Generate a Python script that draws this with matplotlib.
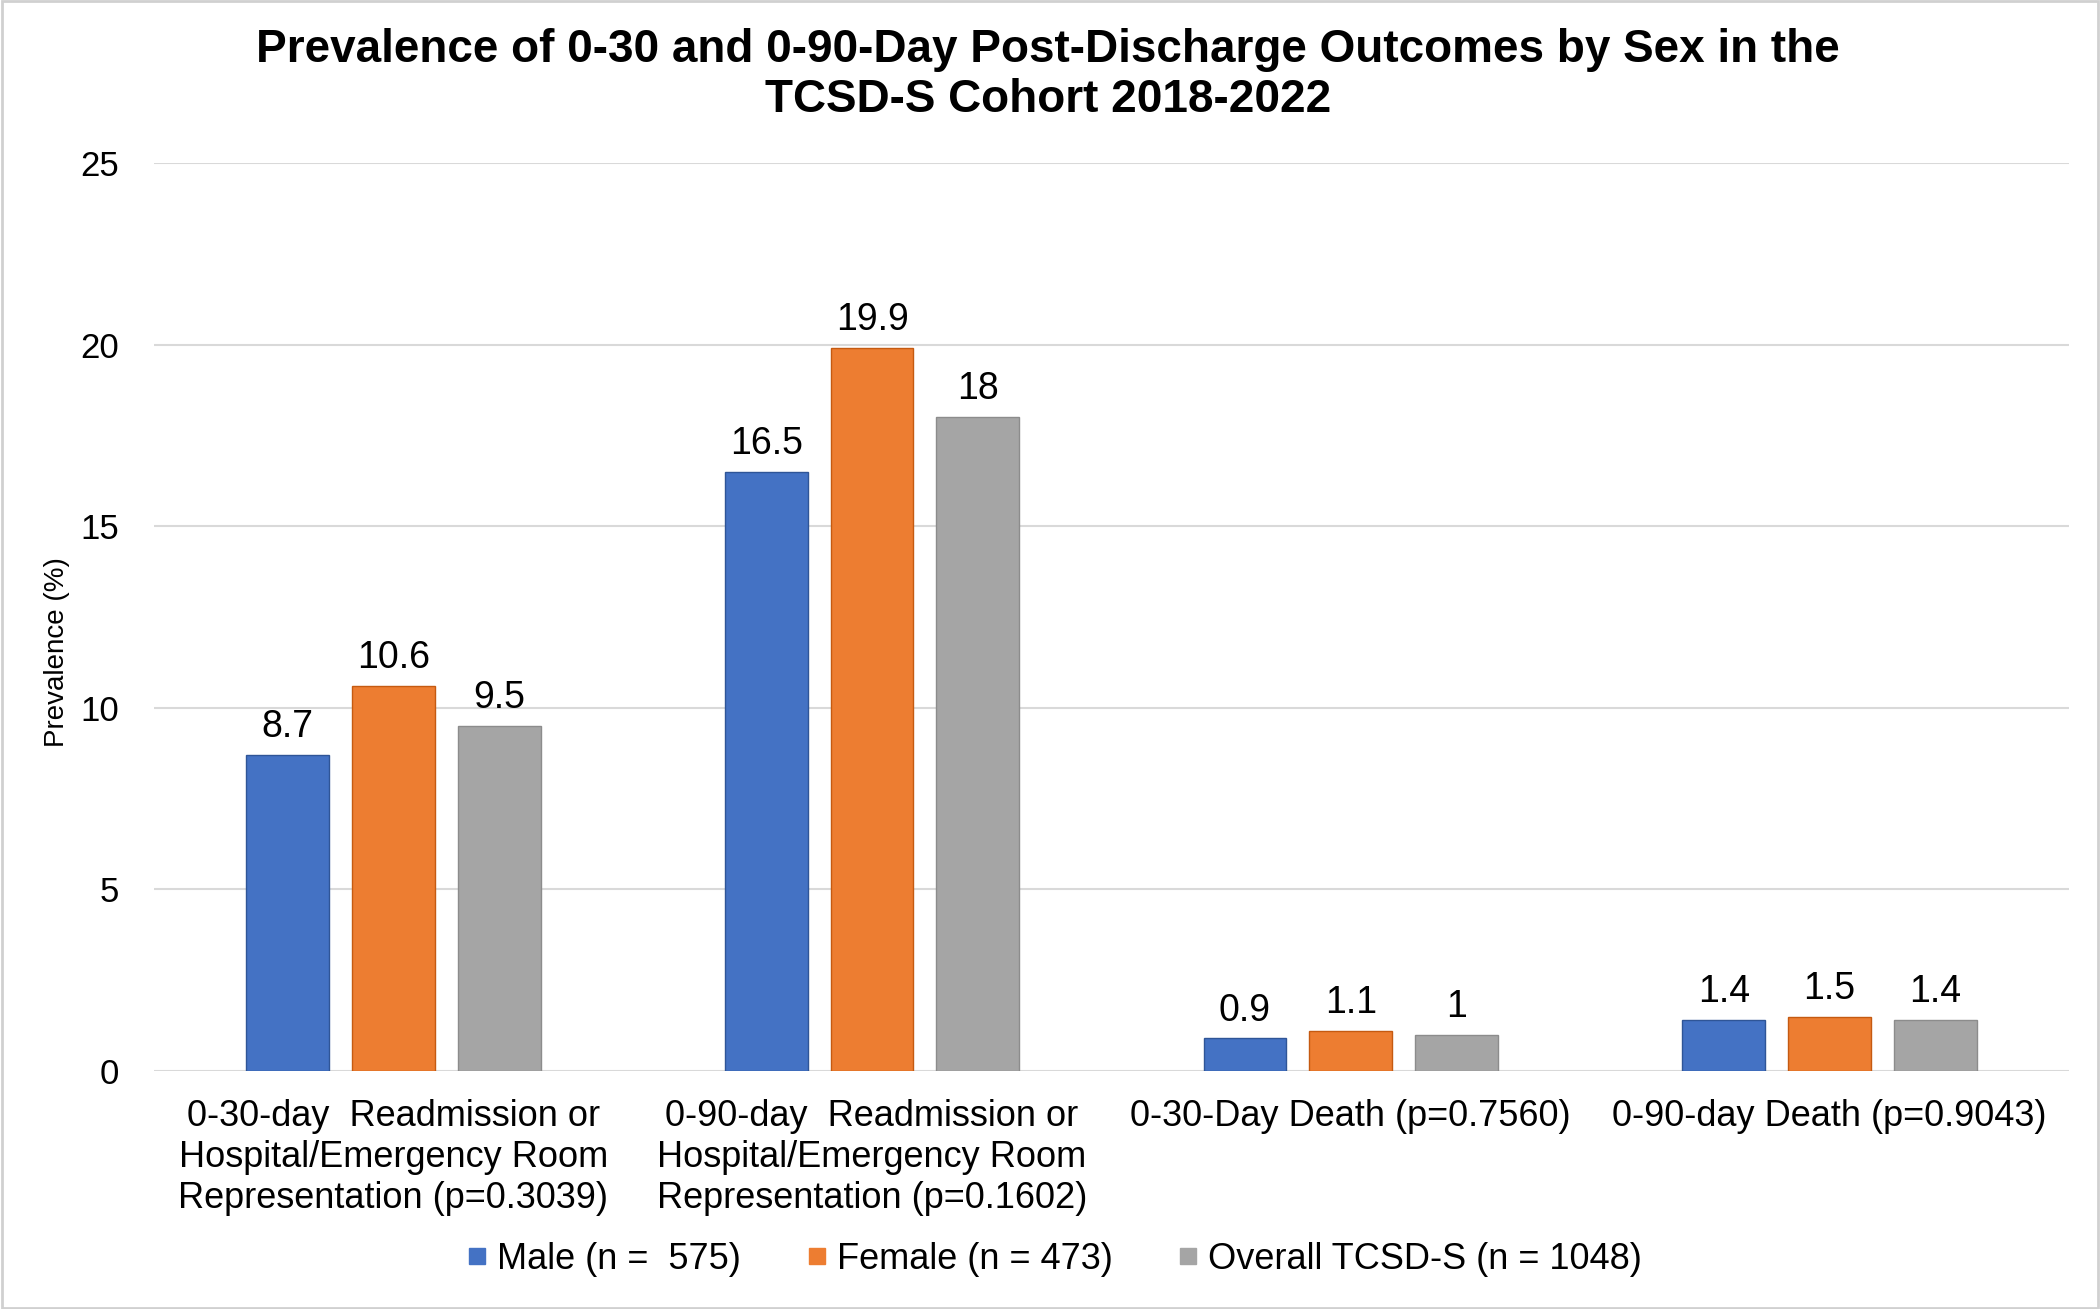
import matplotlib.pyplot as plt
from matplotlib.lines import Line2D
from matplotlib.patches import Rectangle
import numpy as np

plt.rcParams['font.family'] = ['Liberation Sans', 'DejaVu Sans']

categories = [
    '0-30-day  Readmission or\nHospital/Emergency Room\nRepresentation (p=0.3039)',
    '0-90-day  Readmission or\nHospital/Emergency Room\nRepresentation (p=0.1602)',
    '0-30-Day Death (p=0.7560)',
    '0-90-day Death (p=0.9043)',
]
male = [8.7, 16.5, 0.9, 1.4]
female = [10.6, 19.9, 1.1, 1.5]
overall = [9.5, 18, 1, 1.4]
series_names = ['Male (n =  575)', 'Female (n = 473)', 'Overall TCSD-S (n = 1048)']
colors = ['#4472C4', '#ED7D31', '#A5A5A5']
edges = ['#2F5597', '#C55A11', '#8C8C8C']

fig = plt.figure(figsize=(21, 13.09), dpi=100)
ax = fig.add_axes([0.0733, 0.1818, 0.9119, 0.6937])

x = np.arange(len(categories))
w = 0.173
off = 0.221
for i, vals in enumerate([male, female, overall]):
    bars = ax.bar(x + (i - 1) * off, vals, w, color=colors[i], edgecolor=edges[i],
                  linewidth=1, zorder=3)
    for b, v in zip(bars, vals):
        ax.text(b.get_x() + b.get_width() / 2, v + 0.27, '{:g}'.format(v),
                ha='center', va='bottom', fontsize=27)

ax.set_xlim(-0.5, 3.5)
ax.set_ylim(0, 25)
ax.set_yticks([0, 5, 10, 15, 20, 25])
ax.set_xticks(x)
ax.set_xticklabels(categories, fontsize=26, linespacing=1.22)
ax.tick_params(axis='y', labelsize=25, length=0, pad=25)
ax.tick_params(axis='x', length=0, pad=20)
ax.grid(axis='y', color='#D9D9D9', linewidth=1.5, zorder=0)
for s in ax.spines.values():
    s.set_visible(False)

fig.text(0.027, 0.502, 'Prevalence (%)', rotation=90, ha='center', va='center', fontsize=20)
fig.text(0.499, 0.9425, 'Prevalence of 0-30 and 0-90-Day Post-Discharge Outcomes by Sex in the\nTCSD-S Cohort 2018-2022',
         ha='center', va='center', fontsize=33, fontweight='bold', linespacing=1.17)

handles = [Line2D([], [], marker='s', linestyle='none', markersize=12,
                  markerfacecolor=c, markeredgecolor=c) for c in colors]
fig.legend(handles, series_names, loc='center', bbox_to_anchor=(0.502, 0.038),
           ncol=3, frameon=False, fontsize=26, handlelength=0.6, handletextpad=0.25,
           columnspacing=1.8)

fig.patches.append(Rectangle((0.001, 0.001), 0.998, 0.998, transform=fig.transFigure,
                             fill=False, edgecolor='#D0D0D0', linewidth=2))

plt.savefig('out.png', dpi=100)
